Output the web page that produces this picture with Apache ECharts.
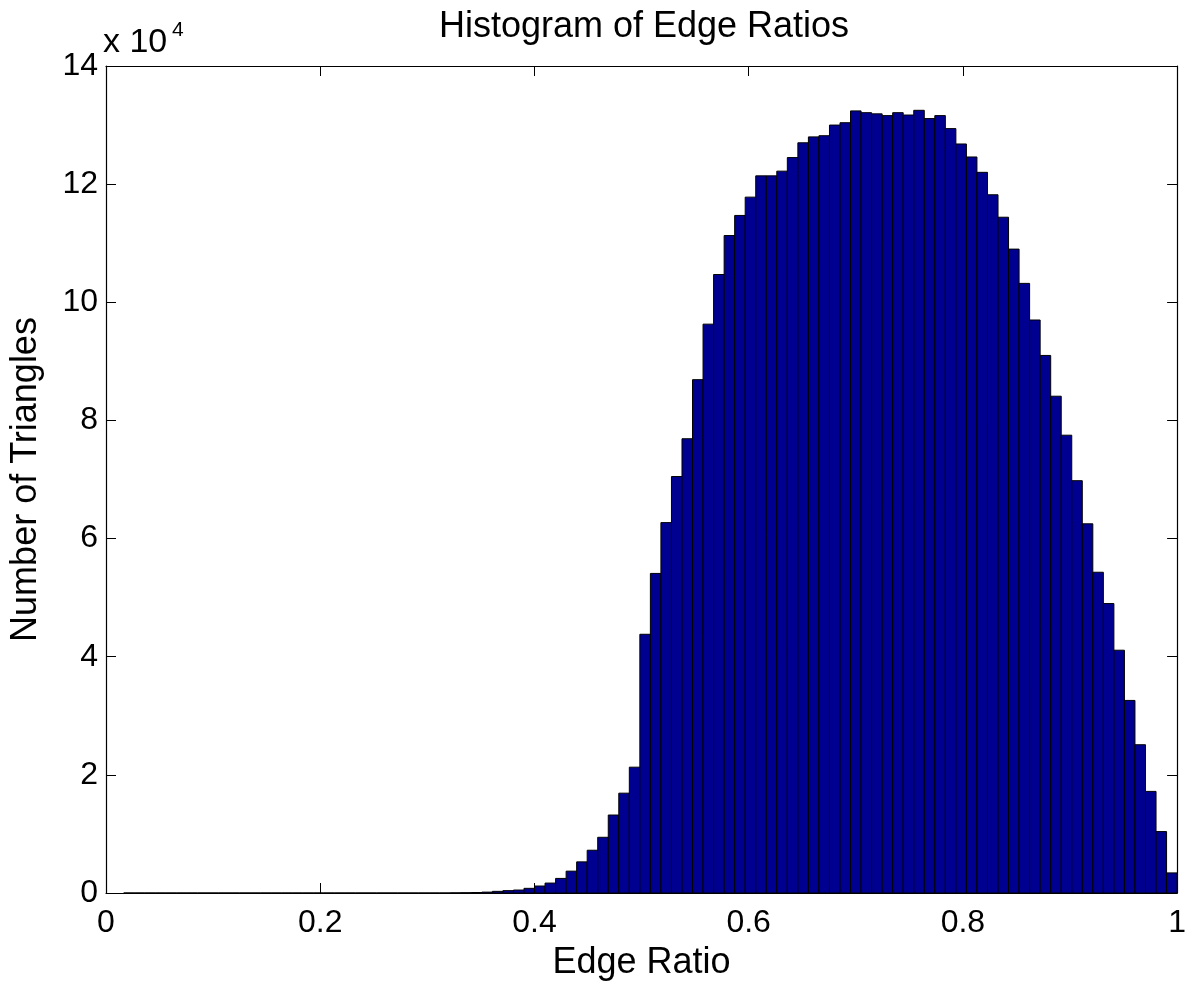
<!DOCTYPE html>
<html>
<head>
<meta charset="utf-8">
<script src="https://cdn.jsdelivr.net/npm/echarts@6/dist/echarts.min.js"></script>
<style>
html,body{margin:0;padding:0;background:#fff;overflow:hidden;}
#chart{width:1189px;height:986px;}
</style>
</head>
<body>
<div id="chart"></div>
<script>
// ---- data ----
const titleText = 'Histogram of Edge Ratios';
const xName = 'Edge Ratio';
const yName = 'Number of Triangles';
const binLow = 0.0165;   // left edge of first bin (data minimum)
const binHigh = 1.0;     // right edge of last bin (data maximum)
const counts = [
  0,0,0,0,0,0,0,0,0,0,
  0,0,0,0,0,0,0,0,0,0,
  0,0,0,0,0,0,0,0,0,0,
  0,20,40,80,150,280,400,500,790,1180,
  1680,2470,3700,5270,7240,9430,13200,16900,21300,43800,
  54100,62700,70500,76900,86900,96300,104700,111300,114700,117800,
  121400,121400,122200,124500,127000,128000,128200,130000,130400,132400,
  132100,131900,131600,132100,131700,132500,131100,131600,129400,126800,
  124600,122000,118200,114400,109000,103200,97000,91000,84100,77500,
  69800,62500,54300,49000,41100,32600,25100,17200,10400,3400
];
const xTicks = [0, 0.2, 0.4, 0.6, 0.8, 1];
const yTickLabels = ['0','2','4','6','8','10','12','14'];

// ---- build ----
const nBins = counts.length;
const binW = (binHigh - binLow) / nBins;
const barData = counts.map((c, i) => [binLow + i * binW, binLow + (i + 1) * binW, c]);

const FONT = '"Liberation Sans", Arial, Helvetica, sans-serif';
const chart = echarts.init(document.getElementById('chart'), null, {renderer: 'canvas', width: 1189, height: 986});

const baseAxisLine = {show: true, onZero: false, lineStyle: {color: '#000', width: 1.2}};
const baseTick = {show: true, inside: true, length: 10, lineStyle: {color: '#000', width: 1}};

const option = {
  animation: false,
  backgroundColor: '#fff',
  grid: {left: 103, top: 66, width: 1081, height: 831, containLabel: false},
  xAxis: [
    {
      type: 'value', min: 0, max: 1, interval: 0.2, position: 'bottom',
      axisLine: baseAxisLine, axisTick: baseTick, splitLine: {show: false},
      axisLabel: {
        fontSize: 32, color: '#000', fontFamily: FONT, margin: 14,
        formatter: v => { const t = xTicks.find(k => Math.abs(k - v) < 1e-9); return t === undefined ? '' : String(t); }
      },
      name: xName, nameLocation: 'middle', nameGap: 52,
      nameTextStyle: {fontSize: 36, color: '#000', fontFamily: FONT}
    },
    {
      type: 'value', min: 0, max: 1, interval: 0.2, position: 'top',
      axisLine: baseAxisLine, axisTick: baseTick, splitLine: {show: false},
      axisLabel: {show: false}
    }
  ],
  yAxis: [
    {
      type: 'value', min: 0, max: 140000, interval: 20000, position: 'left',
      axisLine: baseAxisLine, axisTick: baseTick, splitLine: {show: false},
      axisLabel: {
        fontSize: 32, color: '#000', fontFamily: FONT, margin: 8,
        formatter: v => yTickLabels[Math.round(v / 20000)] || ''
      },
      name: yName, nameLocation: 'middle', nameGap: 62,
      nameTextStyle: {fontSize: 36, color: '#000', fontFamily: FONT}
    },
    {
      type: 'value', min: 0, max: 140000, interval: 20000, position: 'right',
      axisLine: baseAxisLine, axisTick: baseTick, splitLine: {show: false},
      axisLabel: {show: false}
    }
  ],
  graphic: [
    {type: 'text', x: 644, y: 9, style: {text: titleText, font: '36px ' + FONT, fill: '#000', textAlign: 'center'}},
    {type: 'text', x: 103, y: 26, style: {text: 'x 10', font: '34px ' + FONT, fill: '#000'}},
    {type: 'text', x: 172, y: 20, style: {text: '4', font: '21px ' + FONT, fill: '#000'}}
  ],
  series: [{
    type: 'custom',
    xAxisIndex: 0, yAxisIndex: 0,
    clip: true,
    encode: {x: [0, 1], y: 2},
    data: barData,
    renderItem: function (params, api) {
      const lo = api.value(0), hi = api.value(1), v = api.value(2);
      const p1 = api.coord([lo, v]);
      const p2 = api.coord([hi, 0]);
      return {
        type: 'rect',
        shape: {x: p1[0], y: p1[1], width: p2[0] - p1[0], height: p2[1] - p1[1]},
        style: {fill: '#000090', stroke: '#000', lineWidth: 1}
      };
    }
  }]
};
chart.setOption(option);
</script>
</body>
</html>
